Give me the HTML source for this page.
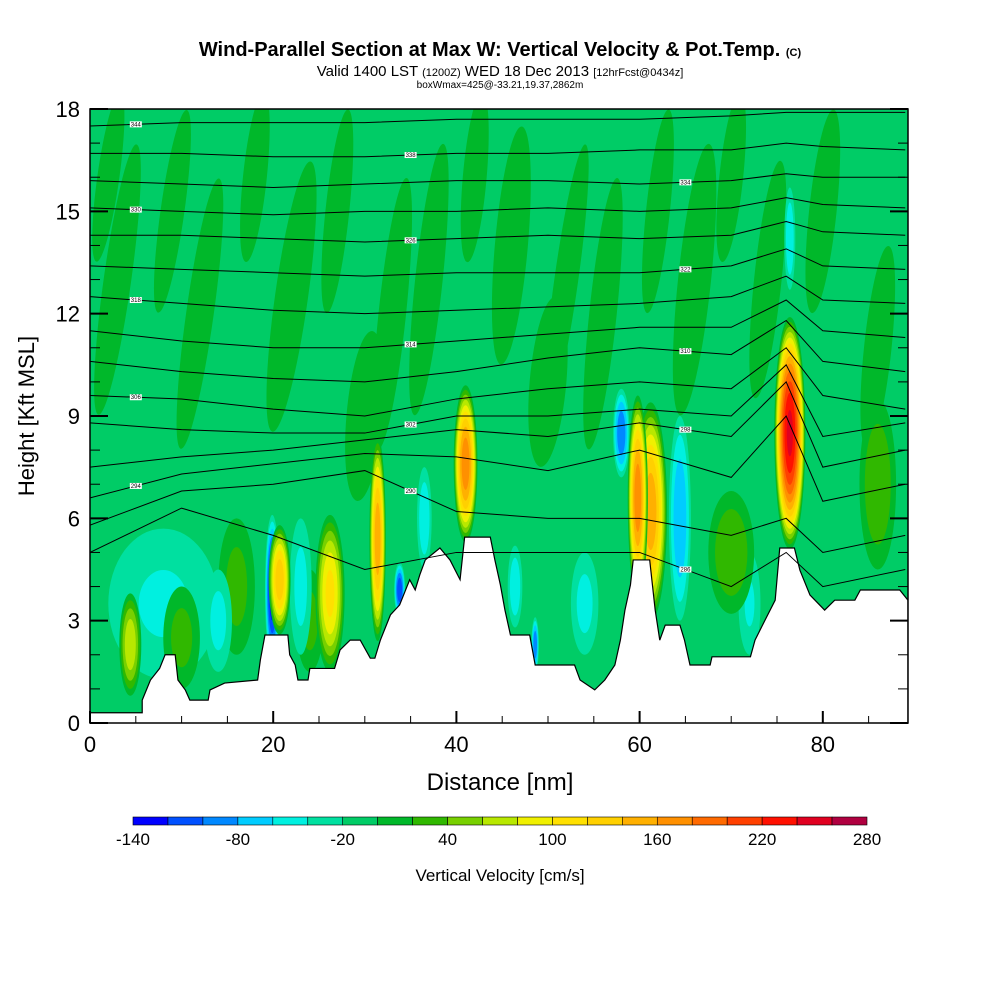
<!DOCTYPE html>
<html><head><meta charset="utf-8">
<style>
body{margin:0;background:#fff;}
svg{display:block;font-family:"Liberation Sans",Arial,sans-serif;}
</style></head>
<body>
<svg id="chart" width="1000" height="1000" viewBox="0 0 1000 1000">
<text x="500" y="56" text-anchor="middle" font-size="20" font-weight="bold">Wind-Parallel Section at Max W: Vertical Velocity &amp; Pot.Temp. <tspan font-size="11">(C)</tspan></text>
<text x="500" y="76" text-anchor="middle" font-size="15">Valid 1400 LST <tspan font-size="11">(1200Z)</tspan> WED 18 Dec 2013 <tspan font-size="11">[12hrFcst@0434z]</tspan></text>
<text x="500" y="88" text-anchor="middle" font-size="10">boxWmax=425@-33.21,19.37,2862m</text>
<defs><clipPath id="pc"><rect x="90" y="109" width="818" height="614"/></clipPath></defs>
<g id="field" clip-path="url(#pc)"></g>
<g id="terrain" clip-path="url(#pc)"></g>
<g id="isentropes" clip-path="url(#pc)"></g>
<rect x="90" y="109" width="818" height="614" fill="none" stroke="#000" stroke-width="1.5"/>
<g id="axes"></g>
<text x="500" y="790" text-anchor="middle" font-size="24">Distance [nm]</text>
<text transform="translate(34,416) rotate(-90)" text-anchor="middle" font-size="22">Height [Kft MSL]</text>
<g id="cbar"></g>
<text x="500" y="881" text-anchor="middle" font-size="17">Vertical Velocity [cm/s]</text>
</svg>
<script>
// ---- data ----
const xTicks=[0,20,40,60,80];
const yTicks=[0,3,6,9,12,15,18];
const cbarLabels=[-140,-80,-20,40,100,160,220,280];
const levelColors=["#0000ff","#0050ff","#0088ff","#00ccff","#00f0e0","#00e0a0","#00cc66","#00b82a","#30b800","#78d000","#b8e800","#f0f000","#ffe000","#ffd000","#ffb000","#ff9000","#ff6a00","#ff4000","#ff1000","#e00020","#b00040"];
const terrainDist=[0,5.7,5.7,6.6,7.6,8.2,9.3,9.6,10.4,10.9,12.9,13.1,14.7,18.3,18.6,19.1,21.6,21.8,22.4,22.7,23.8,24.0,26.7,27.3,28.4,29.5,30.6,31.1,31.7,32.8,33.8,34.9,35.5,36.0,36.6,38.2,39.3,40.4,40.9,43.7,44.2,44.8,45.3,45.9,48.0,48.6,52.9,53.5,55.1,56.2,57.3,57.9,58.4,59.0,59.3,61.1,61.7,62.2,62.8,64.4,64.9,65.5,67.7,67.9,72.1,72.6,73.7,74.8,75.3,76.9,77.5,78.6,80.2,81.3,83.5,84.1,88.4,89.3];
const terrainHeight=[0.3,0.3,0.67,1.26,1.6,2.0,2.0,1.26,0.97,0.67,0.67,0.97,1.17,1.26,1.85,2.58,2.58,2.0,1.7,1.26,1.26,1.6,1.6,2.14,2.43,2.43,1.9,1.9,2.43,3.17,3.46,4.2,3.9,4.34,4.78,5.13,4.78,4.2,5.45,5.45,4.78,4.05,3.31,2.58,2.58,1.7,1.7,1.26,0.97,1.26,1.7,2.43,3.31,4.05,4.78,4.78,3.31,2.43,2.87,2.87,2.43,1.7,1.7,1.94,1.94,2.43,3.02,3.6,5.13,5.13,4.48,3.75,3.31,3.6,3.6,3.9,3.9,3.6];
// blobs: distance, height, half-width (nm), half-height (kft), peak (cm/s), tilt (deg)
const blobDist=[8,2,3,9,12,18,22,27,33,37,42,46,52,56,62,66,70,74,80,86,30,50,10,16,24,70,86,76.4,61.2,59.8,41.0,31.4,26.2,20.7,4.4,19.9,58.0,33.8,48.6,64.4,36.5,76.4,46.4,23,14,54,72];
const blobHeight=[3.5,16,13,15,12,16,12.5,15,12,13,16,14,13,12,15,13,16,13,15,11,9,10,2.5,4,3,5,7,8.5,6.2,6.6,7.6,5.4,3.8,4.2,2.3,3.9,8.5,3.9,2.3,6.0,6.0,14.2,4.0,4,3,3.5,3.5];
const blobHalfW=[6,1.2,1.5,1.3,1.5,1.3,1.8,1.3,1.5,1.5,1.3,1.8,1.3,1.5,1.3,1.8,1.3,1.5,1.5,1.5,2,2,2,2,1.5,2.5,2,1.7,1.8,1.1,1.3,0.9,1.6,1.2,1.2,0.8,0.9,0.6,0.4,1.2,0.8,0.6,0.8,1.2,1.5,1.5,1.2];
const blobHalfH=[2.2,2.5,4,3,4,2.5,4,3,4,4,2.5,3.5,4,4,3,4,2.5,3.5,3,3,2.5,2.5,1.5,2,1.5,1.8,2.5,3.4,3.2,3.0,2.3,3.0,2.3,1.6,1.5,2.2,1.3,0.8,0.8,3.0,1.5,1.5,1.2,2,1.5,1.5,1.5];
const blobPeak=[-25,20,20,20,20,20,20,20,20,20,20,20,20,20,20,20,20,20,20,20,20,20,30,30,30,40,40,250,160,180,180,160,110,140,80,-120,-80,-100,-80,-60,-40,-40,-40,-30,-30,-30,-25];
const blobTilt=[0,8,8,8,8,6,8,6,6,6,5,5,8,6,6,6,6,6,6,6,5,5,0,0,0,0,0,0,0,0,0,0,0,0,0,0,0,0,0,0,0,0,0,0,0,0,0];
const thetaLabels=["344","338","334","330","326","322","318","314","310","306","302","298","294","290","286"];
const thetaDist=[0,10,20,30,40,50,60,70,76,80,89];
const thetaH=[
[17.5,17.6,17.6,17.6,17.7,17.7,17.7,17.8,17.9,17.9,17.9],
[16.7,16.7,16.6,16.6,16.7,16.7,16.8,16.8,17.0,16.9,16.8],
[15.9,15.8,15.7,15.8,15.9,15.9,15.8,15.9,16.1,16.0,16.0],
[15.1,15.0,14.9,15.0,15.0,15.1,15.0,15.1,15.4,15.2,15.1],
[14.3,14.3,14.2,14.1,14.2,14.3,14.2,14.3,14.7,14.4,14.3],
[13.4,13.3,13.2,13.1,13.2,13.2,13.2,13.4,13.9,13.4,13.3],
[12.5,12.3,12.1,12.0,12.1,12.2,12.3,12.5,13.1,12.4,12.3],
[11.5,11.2,11.0,11.0,11.2,11.4,11.6,11.6,12.4,11.5,11.3],
[10.6,10.3,10.1,10.0,10.3,10.7,11.0,10.8,11.8,10.6,10.3],
[9.6,9.5,9.2,9.0,9.5,9.8,10.0,9.8,11.0,9.6,9.2],
[8.8,8.6,8.5,8.5,9.0,9.0,9.2,9.0,10.5,8.4,8.8],
[7.5,7.8,8.0,8.3,8.6,8.4,8.8,8.4,10.0,7.5,8.0],
[6.6,7.3,7.6,7.9,7.8,7.4,8.0,7.2,9.0,6.5,7.0],
[5.8,6.8,7.0,7.4,6.2,6.0,6.0,5.5,6.0,5.0,5.5],
[5.0,6.3,5.5,4.5,5.0,5.0,5.0,4.0,5.0,4.0,4.5]];
// ---- scales ----
const X0=90,X1=908,Y0=723,Y1=109,DMAX=89.3,HMAX=18;
const xs=d=>X0+(d/DMAX)*(X1-X0);
const ys=h=>Y0-(h/HMAX)*(Y0-Y1);
const NS="http://www.w3.org/2000/svg";
function mk(tag,attrs,parent){const e=document.createElementNS(NS,tag);for(const k in attrs)e.setAttribute(k,attrs[k]);parent.appendChild(e);return e;}
const field=document.getElementById('field');
const bg=mk('rect',{x:X0,y:Y1,width:X1-X0,height:Y0-Y1,fill:levelColors[6]},field);


const order=blobPeak.map((p,i)=>i).sort((a,b)=>Math.abs(blobPeak[a])-Math.abs(blobPeak[b]));
order.forEach(i=>{
  const pk=blobPeak[i];
  const g=mk('g',{},field);
  
  
  const cx=xs(blobDist[i]),cy=ys(blobHeight[i]);
  const rx=xs(blobHalfW[i])-xs(0),ry=ys(0)-ys(blobHalfH[i]);
  const tr=`rotate(${blobTilt[i]} ${cx} ${cy})`;
  if(pk>0){
    for(let L=0;L<pk;L+=20){
      const f=Math.sqrt(1-L/pk);
      const idx=Math.min(20,Math.floor((L+140)/20));
      const e=mk('ellipse',{cx:cx,cy:cy,rx:rx*f,ry:ry*f,fill:levelColors[idx],transform:tr},g);
      
      
    }
  } else {
    for(let L=-20;L>pk-20;L-=20){
      const f=Math.sqrt(1-(L+20)/pk);
      const idx=Math.max(0,Math.floor((L+140)/20)-1);
      const e=mk('ellipse',{cx:cx,cy:cy,rx:rx*f,ry:ry*f,fill:levelColors[idx],transform:tr},g);
      
      
    }
  }
});
const iso=document.getElementById('isentropes');
thetaH.forEach((row,k)=>{
  const pts=row.map((h,j)=>xs(thetaDist[j])+','+ys(h)).join(' ');
  const pl=mk('polyline',{points:pts,fill:'none',stroke:'#000','stroke-width':1},iso);
  
  
  const j=(k*3)%9+1;
  const lx=(xs(thetaDist[j])+xs(thetaDist[j-1]))/2, ly=(ys(row[j])+ys(row[j-1]))/2;
  const r=mk('rect',{x:lx-6,y:ly-3,width:12,height:6,fill:'#fff'},iso);
  
  
  const t=mk('text',{x:lx,y:ly+2,'font-size':6,'text-anchor':'middle'},iso);
  t.textContent=thetaLabels[k];
  
  
});
const ter=document.getElementById('terrain');
let tp=terrainDist.map((d,i)=>xs(d)+','+ys(terrainHeight[i])).join(' ');
tp+=` ${X1},${Y0+2} ${X0},${Y0+2}`;
const tpoly=mk('polygon',{points:tp,fill:'#fff',stroke:'#000','stroke-width':1.2},ter);


const ax=document.getElementById('axes');
xTicks.forEach(v=>{
  const x=xs(v);
  const t=mk('text',{x:x,y:752,'font-size':22,'text-anchor':'middle'},ax);
  t.textContent=v;
  
  
  const l=mk('line',{x1:x,y1:Y0,x2:x,y2:Y0-12,stroke:'#000','stroke-width':2},ax);
  
  
});
for(let v=5;v<DMAX;v+=5){ if(v%20===0)continue;
  const l=mk('line',{x1:xs(v),y1:Y0,x2:xs(v),y2:Y0-7,stroke:'#000','stroke-width':1},ax);
  
  
}
yTicks.forEach(v=>{
  const y=ys(v);
  const t=mk('text',{x:80,y:y+8,'font-size':22,'text-anchor':'end'},ax);
  t.textContent=v;
  
  
  const l=mk('line',{x1:X0,y1:y,x2:X0+18,y2:y,stroke:'#000','stroke-width':2},ax);
  
  
  const l2=mk('line',{x1:X1,y1:y,x2:X1-18,y2:y,stroke:'#000','stroke-width':2},ax);
  
  
});
for(let v=1;v<HMAX;v++){ if(v%3===0)continue;
  const l=mk('line',{x1:X0,y1:ys(v),x2:X0+10,y2:ys(v),stroke:'#000','stroke-width':1},ax);
  
  
  const l2=mk('line',{x1:X1,y1:ys(v),x2:X1-10,y2:ys(v),stroke:'#000','stroke-width':1},ax);
  
  
}
const cb=document.getElementById('cbar');
const CB0=133,CB1=867,CBW=(CB1-CB0)/levelColors.length;
const cbx=v=>CB0+(v+140)/420*(CB1-CB0);
levelColors.forEach((c,i)=>{
  const r=mk('rect',{x:CB0+i*CBW,y:817,width:CBW,height:8,fill:c,stroke:'#000','stroke-width':0.6},cb);
  
  
});
cbarLabels.forEach(v=>{
  const t=mk('text',{x:cbx(v),y:845,'font-size':17,'text-anchor':'middle'},cb);
  t.textContent=v;
  
  
});
</script>
</body></html>
